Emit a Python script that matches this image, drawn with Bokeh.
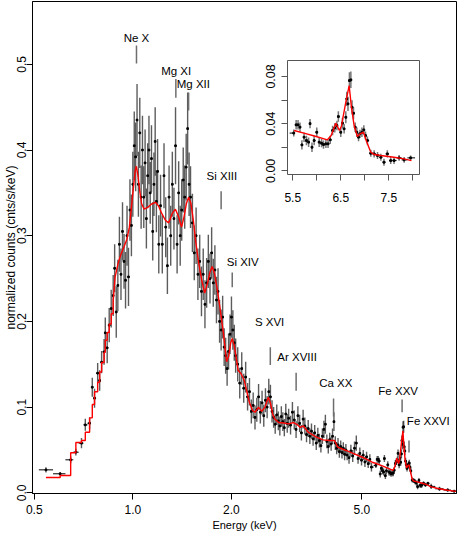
import numpy as np
from bokeh.plotting import figure
from bokeh.layouts import column
from bokeh.models import (ColumnDataSource, FixedTicker, PrintfTickFormatter,
                          CustomJSTickFormatter, Range1d)
from bokeh.embed import file_html
from bokeh.resources import INLINE
from bokeh.core.properties import value

FONT = "Liberation Sans"

# ---------------- spectrum data (energy keV, normalized counts, 1-sigma error) ----------------
E_low = [0.543, 0.600, 0.646, 0.670, 0.697, 0.716, 0.738, 0.752, 0.764, 0.781, 0.792, 0.803,
         0.817, 0.824, 0.835, 0.847, 0.859, 0.871]
v_low = [0.0268, 0.0222, 0.0385, 0.0474, 0.0579, 0.0793, 0.0812, 0.1232, 0.1104, 0.1396, 0.131,
         0.1524, 0.1645, 0.1867, 0.1692, 0.1956, 0.215, 0.2302]
err_low = [0.003, 0.002, 0.004, 0.004, 0.006, 0.007, 0.007, 0.011, 0.011, 0.012, 0.012, 0.013,
           0.015, 0.018, 0.018, 0.02, 0.022, 0.024]
model_low = [0.0179, 0.0202, 0.0467, 0.0587, 0.061, 0.0707, 0.0875, 0.103, 0.118, 0.129, 0.141,
             0.152, 0.164, 0.178, 0.187, 0.197, 0.209, 0.224]

E_ne = [0.88, 0.89, 0.90, 0.91, 0.92, 0.93, 0.94, 0.95, 0.96, 0.97, 0.98, 0.99, 1.00, 1.01, 1.02,
        1.03, 1.04, 1.05, 1.06, 1.07, 1.08, 1.09, 1.10, 1.11, 1.12, 1.13, 1.14, 1.15, 1.16, 1.17,
        1.18, 1.19, 1.20]
v_ne = [0.262, 0.211, 0.242, 0.290, 0.255, 0.305, 0.270, 0.248, 0.300, 0.252, 0.330, 0.312, 0.360,
        0.405, 0.392, 0.435, 0.360, 0.420, 0.345, 0.400, 0.345, 0.385, 0.320, 0.370, 0.400, 0.350,
        0.390, 0.305, 0.360, 0.410, 0.340, 0.375, 0.290]
err_ne = [0.028, 0.03, 0.03, 0.032, 0.03, 0.034, 0.032, 0.033, 0.035, 0.034, 0.036, 0.036, 0.038,
          0.04, 0.04, 0.042, 0.038, 0.041, 0.037, 0.04, 0.036, 0.039, 0.035, 0.038, 0.04, 0.036,
          0.039, 0.034, 0.037, 0.04, 0.036, 0.038, 0.034]

E_mg = [1.215, 1.23, 1.245, 1.26, 1.275, 1.29, 1.305, 1.32, 1.335, 1.35, 1.365, 1.38, 1.395, 1.41,
        1.425, 1.44, 1.455, 1.47, 1.485, 1.50]
v_mg = [0.335, 0.290, 0.370, 0.310, 0.265, 0.345, 0.300, 0.360, 0.320, 0.405, 0.290, 0.350, 0.300,
        0.330, 0.365, 0.345, 0.380, 0.425, 0.360, 0.345]
err_mg = [0.036, 0.034, 0.038, 0.035, 0.033, 0.037, 0.035, 0.038, 0.036, 0.045, 0.034, 0.037,
          0.035, 0.036, 0.038, 0.037, 0.039, 0.042, 0.037, 0.036]

E_si = [1.52, 1.54, 1.56, 1.58, 1.60, 1.62, 1.64, 1.66, 1.68, 1.70, 1.72, 1.74, 1.76, 1.78, 1.80,
        1.82, 1.84, 1.86, 1.88, 1.90, 1.92, 1.94, 1.96, 1.98, 2.00, 2.02, 2.04, 2.06]
v_si = [0.315, 0.280, 0.300, 0.255, 0.270, 0.235, 0.255, 0.220, 0.245, 0.270, 0.250, 0.280, 0.245,
        0.260, 0.225, 0.235, 0.200, 0.190, 0.205, 0.170, 0.160, 0.145, 0.165, 0.185, 0.205, 0.190,
        0.175, 0.160]
err_si = [0.034, 0.032, 0.033, 0.03, 0.031, 0.029, 0.03, 0.028, 0.029, 0.031, 0.029, 0.03, 0.028,
          0.029, 0.027, 0.027, 0.025, 0.024, 0.025, 0.022, 0.021, 0.02, 0.021, 0.023, 0.024, 0.023,
          0.021, 0.02]

E_s = [2.09, 2.12, 2.15, 2.18, 2.21, 2.24, 2.27, 2.30, 2.33, 2.36, 2.39, 2.42, 2.45, 2.48, 2.51,
       2.54, 2.57, 2.60, 2.63, 2.66, 2.69, 2.72, 2.75, 2.78, 2.81, 2.84, 2.87, 2.90, 2.93, 2.96, 2.99]
v_s = [0.150, 0.128, 0.145, 0.122, 0.135, 0.112, 0.118, 0.095, 0.102, 0.088, 0.097, 0.112, 0.094,
       0.105, 0.090, 0.108, 0.100, 0.118, 0.112, 0.095, 0.088, 0.080, 0.091, 0.084, 0.078, 0.089,
       0.083, 0.076, 0.092, 0.081, 0.087]
err_s = [0.02, 0.018, 0.019, 0.017, 0.018, 0.016, 0.016, 0.014, 0.015, 0.014, 0.014, 0.015, 0.013,
         0.014, 0.013, 0.014, 0.013, 0.015, 0.014, 0.013, 0.012, 0.011, 0.012, 0.011, 0.011, 0.012,
         0.011, 0.01, 0.012, 0.011, 0.011]

E_ca = [3.03, 3.07, 3.11, 3.15, 3.19, 3.23, 3.27, 3.31, 3.35, 3.39, 3.43, 3.47, 3.51, 3.55, 3.59,
        3.63, 3.67, 3.71, 3.75, 3.79, 3.83, 3.87, 3.91, 3.95, 3.99, 4.03, 4.07, 4.11, 4.15, 4.19,
        4.23, 4.27, 4.31, 4.35, 4.39, 4.43, 4.47, 4.51]
v_ca = [0.079, 0.094, 0.085, 0.074, 0.090, 0.081, 0.070, 0.086, 0.078, 0.068, 0.075, 0.066, 0.072,
        0.063, 0.070, 0.058, 0.067, 0.061, 0.055, 0.066, 0.074, 0.080, 0.060, 0.054, 0.062, 0.057,
        0.066, 0.083, 0.058, 0.052, 0.056, 0.048, 0.054, 0.047, 0.052, 0.045, 0.050, 0.044]
err_ca = [0.011, 0.012, 0.011, 0.01, 0.011, 0.01, 0.009, 0.011, 0.01, 0.009, 0.01, 0.009, 0.009,
          0.008, 0.009, 0.008, 0.009, 0.008, 0.008, 0.009, 0.01, 0.011, 0.008, 0.008, 0.008, 0.008,
          0.009, 0.011, 0.008, 0.007, 0.008, 0.007, 0.007, 0.007, 0.007, 0.007, 0.007, 0.006]

E_cont = [4.57, 4.63, 4.69, 4.75, 4.81, 4.87, 4.93, 4.99, 5.05, 5.11, 5.17, 5.23, 5.29, 5.35]
v_cont = [0.041, 0.049, 0.043, 0.052, 0.058, 0.040, 0.046, 0.038, 0.044, 0.036, 0.042, 0.034,
          0.039, 0.030]
err_cont = [0.007, 0.007, 0.007, 0.008, 0.009, 0.006, 0.007, 0.006, 0.006, 0.006, 0.006, 0.005,
            0.006, 0.005]

E_fe = [5.52, 5.57, 5.61, 5.65, 5.69, 5.735, 5.785, 5.83, 5.86, 5.90, 5.945, 6.0, 6.05, 6.10, 6.14,
        6.19, 6.235, 6.28, 6.33, 6.375, 6.42, 6.45, 6.50, 6.535, 6.57, 6.605, 6.625, 6.65, 6.68,
        6.71, 6.735, 6.765, 6.80, 6.835, 6.87, 6.90, 6.94, 6.98, 7.015, 7.055, 7.125, 7.195, 7.265,
        7.335, 7.40, 7.47, 7.54, 7.61, 7.715, 7.82, 7.955]
v_fe = [0.032, 0.039, 0.039, 0.037, 0.022, 0.0285, 0.0257, 0.0243, 0.040, 0.020, 0.0257, 0.0327,
        0.0243, 0.0234, 0.0223, 0.0229, 0.0229, 0.0263, 0.0342, 0.0364, 0.0384, 0.046, 0.0327,
        0.0404, 0.0356, 0.0454, 0.061, 0.0568, 0.0765, 0.0771, 0.0539, 0.0488, 0.037, 0.0327,
        0.0285, 0.0314, 0.0327, 0.0347, 0.0299, 0.0257, 0.0149, 0.0144, 0.013, 0.0115, 0.0073,
        0.0144, 0.0087, 0.0087, 0.011, 0.0093, 0.011]
err_fe = [0.003, 0.004, 0.004, 0.004, 0.004, 0.004, 0.004, 0.004, 0.004, 0.004, 0.004, 0.004,
          0.004, 0.0035, 0.0035, 0.0035, 0.0035, 0.0035, 0.004, 0.004, 0.004, 0.0045, 0.004, 0.0045,
          0.004, 0.005, 0.006, 0.006, 0.007, 0.007, 0.006, 0.005, 0.004, 0.004, 0.0035, 0.0035,
          0.004, 0.004, 0.0035, 0.0035, 0.003, 0.003, 0.003, 0.003, 0.003, 0.003, 0.003, 0.003,
          0.0025, 0.0025, 0.002]

E_tail = [8.14, 8.63, 9.14, 9.57]
v_tail = [0.0075, 0.0047, 0.0032, 0.0019]
err_tail = [0.003, 0.0025, 0.002, 0.0015]

# ---------------- best-fit model (red) ----------------
model_E = [0.871, 0.883, 0.902, 0.921, 0.940, 0.959, 0.976, 0.990, 1.004, 1.017, 1.025, 1.035,
           1.050, 1.064, 1.083, 1.109, 1.141, 1.172, 1.197, 1.222, 1.257, 1.287, 1.319, 1.349,
           1.380, 1.408, 1.433, 1.458, 1.480, 1.504, 1.530, 1.557, 1.589, 1.623, 1.657, 1.691,
           1.721, 1.747, 1.775, 1.813, 1.851, 1.889, 1.933, 1.963, 1.990, 2.011, 2.039, 2.067,
           2.096, 2.140, 2.189, 2.226, 2.267, 2.320, 2.362, 2.419, 2.474, 2.532, 2.592, 2.633,
           2.670, 2.713, 2.789, 2.887, 2.989, 3.094, 3.167, 3.240, 3.315, 3.432, 3.637, 3.806,
           3.987, 4.127, 4.222, 4.475, 4.685, 5.019, 5.378, 5.528, 5.75, 5.95, 6.222, 6.30, 6.396,
           6.472, 6.514, 6.604, 6.674, 6.722, 6.778, 6.847, 6.903, 6.972, 7.035, 7.125, 7.2, 7.333,
           7.61, 7.819, 7.972, 8.15, 8.54, 9.14, 9.7]
model_v = [0.224, 0.252, 0.268, 0.279, 0.287, 0.296, 0.310, 0.333, 0.356, 0.376, 0.381, 0.372,
           0.352, 0.337, 0.331, 0.333, 0.337, 0.339, 0.335, 0.327, 0.318, 0.315, 0.326, 0.331,
           0.322, 0.310, 0.322, 0.338, 0.345, 0.338, 0.318, 0.292, 0.268, 0.248, 0.233, 0.245,
           0.258, 0.264, 0.256, 0.236, 0.212, 0.187, 0.153, 0.160, 0.175, 0.180, 0.172, 0.158,
           0.143, 0.139, 0.131, 0.119, 0.106, 0.096, 0.094, 0.100, 0.095, 0.100, 0.1115, 0.104,
           0.092, 0.086, 0.082, 0.0815, 0.0805, 0.082, 0.080, 0.0765, 0.078, 0.0707, 0.0649, 0.0618,
           0.061, 0.061, 0.0532, 0.0494, 0.0462, 0.0415, 0.0357, 0.0342, 0.0318, 0.0295, 0.0263,
           0.030, 0.0404, 0.0342, 0.038, 0.058, 0.0723, 0.054, 0.0384, 0.029, 0.0314, 0.0327, 0.025,
           0.0158, 0.0138, 0.013, 0.0115, 0.0101, 0.0087, 0.007, 0.005, 0.003, 0.0017]

# ---------------- line identifications ----------------
line_names = ["Ne X", "Mg XI", "Mg XII", "Si XIII", "Si XIV", "S XVI", "Ar XVIII", "Ca XX",
              "Fe XXV", "Fe XXVI"]
line_E = [1.026, 1.353, 1.480, 1.860, 2.011, 2.628, 3.151, 4.099, 6.636, 6.966]
line_y0 = [0.501, 0.461, 0.446, 0.331, 0.240, 0.149, 0.119, 0.089, 0.094, 0.047]
line_y1 = [0.522, 0.483, 0.467, 0.352, 0.257, 0.170, 0.140, 0.110, 0.109, 0.061]
name_E = [1.026, 1.356, 1.530, 1.870, 2.165, 2.615, 3.173, 4.165, 6.455, 7.976]
name_y = [0.531, 0.492, 0.477, 0.370, 0.269, 0.199, 0.158, 0.128, 0.119, 0.0835]

# ---------------- axes ticks ----------------
x_ticks = [0.5, 1.0, 2.0, 5.0]
y_ticks = [0.0, 0.1, 0.2, 0.3, 0.4, 0.5]
inset_x_ticks = [5.5, 6.0, 6.5, 7.0, 7.5, 8.0]
inset_x_labels = [5.5, 6.5, 7.5]
inset_y_ticks = [0.0, 0.02, 0.04, 0.06, 0.08]
inset_y_labels = [0.0, 0.04, 0.08]

# ---------------- assemble ----------------
energy = np.array(E_low + E_ne + E_mg + E_si + E_s + E_ca + E_cont + E_fe + E_tail)
counts = np.array(v_low + v_ne + v_mg + v_si + v_s + v_ca + v_cont + v_fe + v_tail)
errors = np.array(err_low + err_ne + err_mg + err_si + err_s + err_ca + err_cont + err_fe + err_tail)

mid = np.sqrt(energy[1:] * energy[:-1])
e_lo = np.concatenate([[energy[0] ** 2 / mid[0]], mid])
e_hi = np.concatenate([mid, [energy[-1] ** 2 / mid[-1]]])

data = dict(E=energy, v=counts, lo=counts - errors, hi=counts + errors, elo=e_lo, ehi=e_hi)
src = ColumnDataSource(data)

sel = (energy > 5.45) & (energy < 8.0)
isrc = ColumnDataSource({k: np.asarray(val)[sel] for k, val in data.items()})

mE = np.array(model_E)
mv = np.array(model_v)
msel = (mE >= 5.5) & (mE <= 8.0)

ERR_COLOR = "#333333"


def style_axis(ax, size="12px"):
    ax.major_label_text_font = FONT
    ax.major_label_text_font_size = size
    ax.major_label_text_color = "black"
    ax.axis_label_text_font = FONT
    ax.axis_label_text_font_style = "normal"
    ax.axis_label_text_color = "black"
    ax.major_tick_in = 0
    ax.major_tick_out = 6
    ax.minor_tick_in = 0
    ax.minor_tick_out = 0


# ---------------- main figure ----------------
p = figure(width=460, height=536, x_axis_type="log",
           x_range=Range1d(0.494, 9.727), y_range=Range1d(-0.0008, 0.5733),
           output_backend="svg", toolbar_location=None,
           min_border_left=28, min_border_right=1, min_border_top=1, min_border_bottom=43)
p.xgrid.visible = False
p.ygrid.visible = False
p.outline_line_color = "black"
p.outline_line_width = 1
p.background_fill_color = "white"
p.border_fill_color = "white"

xa = p.xaxis[0]
style_axis(xa)
xa.ticker = FixedTicker(ticks=x_ticks, minor_ticks=[])
xa.formatter = PrintfTickFormatter(format="%.1f")
xa.major_label_standoff = 5
xa.axis_label = "Energy (keV)"
xa.axis_label_text_font_size = "11px"
xa.axis_label_standoff = 2

ya = p.yaxis[0]
style_axis(ya, "12px")
ya.ticker = FixedTicker(ticks=y_ticks, minor_ticks=[])
ya.formatter = PrintfTickFormatter(format="%.1f")
ya.major_label_orientation = "vertical"
ya.major_label_standoff = 0
ya.axis_label = "normalized counts (cnts/s/keV)"
ya.axis_label_text_font_size = "12px"
ya.axis_label_standoff = -3

# error bars & points
p.segment(x0="E", y0="lo", x1="E", y1="hi", source=src, line_color=ERR_COLOR,
          line_width=1.4, line_alpha=0.8)
p.segment(x0="elo", y0="v", x1="ehi", y1="v", source=src, line_color="black", line_width=1)
p.scatter(x="E", y="v", source=src, size=1.7, color="black", marker="square")

# model
p.step(x=E_low, y=model_low, mode="after", line_color="red", line_width=1.4)
p.line(x=model_E, y=model_v, line_color="red", line_width=1.4)

# line identifications
p.segment(x0=line_E, y0=line_y0, x1=line_E, y1=line_y1, line_color="#6e6e6e", line_width=1.5)
p.text(x=name_E, y=name_y, text=line_names, text_font=value(FONT), text_font_size="11.5px",
       text_align="center", text_baseline="middle", text_color="black")

# ---------------- inset ----------------
inset = figure(width=168, height=152, x_range=Range1d(5.39, 8.14),
               y_range=Range1d(-0.0031, 0.0935), output_backend="svg", toolbar_location=None,
               min_border_left=32, min_border_right=4, min_border_top=4, min_border_bottom=34,
               styles={"position": "absolute", "left": "255px", "top": "56px"})
inset.xgrid.visible = False
inset.ygrid.visible = False
inset.outline_line_color = "#555555"
inset.background_fill_color = None
inset.border_fill_color = None

ixa = inset.xaxis[0]
style_axis(ixa)
ixa.ticker = FixedTicker(ticks=inset_x_ticks, minor_ticks=[])
ixa.formatter = CustomJSTickFormatter(args=dict(show=inset_x_labels), code="""
    for (const s of show) { if (Math.abs(s - tick) < 1e-9) return tick.toFixed(1); }
    return "";
""")
ixa.major_label_standoff = 12
ixa.axis_line_color = "#555555"
ixa.major_tick_line_color = "#555555"
ixa.bounds = (5.5, 8.0)

iya = inset.yaxis[0]
style_axis(iya, "12.5px")
iya.ticker = FixedTicker(ticks=inset_y_ticks, minor_ticks=[])
iya.formatter = CustomJSTickFormatter(args=dict(show=inset_y_labels), code="""
    for (const s of show) { if (Math.abs(s - tick) < 1e-9) return tick.toFixed(2); }
    return "";
""")
iya.major_label_orientation = "vertical"
iya.major_label_standoff = 6
iya.axis_line_color = "#555555"
iya.major_tick_line_color = "#555555"
iya.bounds = (0.0, 0.08)

inset.segment(x0="E", y0="lo", x1="E", y1="hi", source=isrc, line_color="#666666",
              line_width=1.5, line_alpha=0.9)
inset.segment(x0="elo", y0="v", x1="ehi", y1="v", source=isrc, line_color="black", line_width=1)
inset.scatter(x="E", y="v", source=isrc, size=1.8, color="black", marker="square")
inset.line(x=mE[msel], y=mv[msel], line_color="red", line_width=1.4)

layout = column(p, inset)
open("out.html", "w").write(file_html(layout, INLINE))
